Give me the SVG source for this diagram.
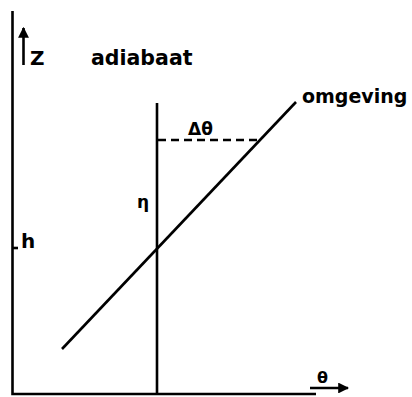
<svg xmlns="http://www.w3.org/2000/svg" width="412" height="397" viewBox="0 0 412 397">
<style>
.ln{stroke:#000;stroke-width:2.6;fill:none;stroke-linecap:butt}
.t{font-family:"DejaVu Sans",sans-serif;font-weight:bold;fill:#000}
</style>
<defs>
<marker id="ah" viewBox="0 0 10 10" refX="9" refY="5" markerWidth="4.2" markerHeight="4.2" orient="auto" markerUnits="strokeWidth">
<path d="M0,0 L10,5 L0,10 Z" fill="#000"/>
</marker>
</defs>
<rect width="412" height="397" fill="#fff"/>
<g id="axes">
<path class="ln" d="M12.5,11 V394 H316"/>
<line class="ln" x1="12" y1="248" x2="18" y2="248"/>
<line class="ln" x1="23.5" y1="65" x2="23.5" y2="28" marker-end="url(#ah)"/>
<line class="ln" x1="310" y1="388" x2="348" y2="388" marker-end="url(#ah)"/>
</g>
<g id="connectors">
<line class="ln" x1="157" y1="103" x2="157" y2="394"/>
<line class="ln" x1="62" y1="349" x2="296" y2="102"/>
<line class="ln" x1="158" y1="140" x2="259" y2="140" stroke-dasharray="8,5"/>
</g>
<g id="labels">
<text class="t" x="30" y="65" font-size="20">Z</text>
<text class="t" x="91" y="65" font-size="20.5">adiabaat</text>
<text class="t" x="302" y="103" font-size="19">omgeving</text>
<text class="t" x="188" y="135" font-size="17">Δθ</text>
<text class="t" x="137" y="208" font-size="17">η</text>
<text class="t" x="21" y="248" font-size="20">h</text>
<text class="t" x="317" y="383" font-size="16">θ</text>
</g>
</svg>
